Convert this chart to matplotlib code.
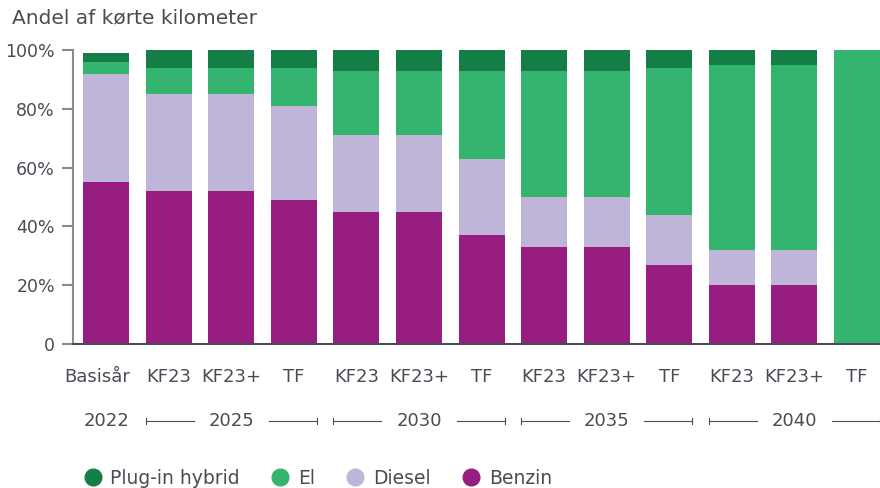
import matplotlib.pyplot as plt
import matplotlib.transforms as mtransforms
from matplotlib.lines import Line2D
import numpy as np

plt.rcParams['font.family'] = ['DejaVu Sans']

# Scenarios per year
scenarios = ['Basisår', 'KF23', 'KF23+', 'TF', 'KF23', 'KF23+', 'TF',
             'KF23', 'KF23+', 'TF', 'KF23', 'KF23+', 'TF']
years = ['2022', '2025', '2030', '2035', '2040']
year_bars = [[0], [1, 2, 3], [4, 5, 6], [7, 8, 9], [10, 11, 12]]

# Share of driven kilometres (%)
benzin = [55, 52, 52, 49, 45, 45, 37, 33, 33, 27, 20, 20, 0]
diesel = [37, 33, 33, 32, 26, 26, 26, 17, 17, 17, 12, 12, 0]
el = [4, 9, 9, 13, 22, 22, 30, 43, 43, 50, 63, 63, 100]
plugin = [3, 6, 6, 6, 7, 7, 7, 7, 7, 6, 5, 5, 0]

c_benzin = '#981d80'
c_diesel = '#bfb5d8'
c_el = '#34b46e'
c_plugin = '#157e47'
txt = '#4b4b55'
fs = 12.5

fig = plt.figure(figsize=(8.8, 4.88), dpi=100)
ax = fig.add_axes([0.083, 0.295, 0.917, 0.6025])

x = np.arange(len(scenarios))
w = 0.735
bottom = np.zeros(len(x))
for vals, col in [(benzin, c_benzin), (diesel, c_diesel), (el, c_el), (plugin, c_plugin)]:
    ax.bar(x, vals, w, bottom=bottom, color=col, linewidth=0)
    bottom += np.array(vals)

ax.set_ylim(0, 100)
ax.set_xlim(-0.53, 12.37)
ax.set_yticks([0, 20, 40, 60, 80, 100])
ax.set_yticklabels(['0', '20%', '40%', '60%', '80%', '100%'])
ax.set_xticks(x)
ax.set_xticklabels(scenarios)
ax.tick_params(axis='y', length=8, width=1.5, color='#8a8a90', labelsize=fs,
               labelcolor=txt, pad=5)
ax.tick_params(axis='x', length=0, labelsize=13, labelcolor=txt, pad=17)

# first label sits flush with the right edge of its bar
lab0 = ax.get_xticklabels()[0]
lab0.set_ha('right')
lab0.set_transform(lab0.get_transform() +
                   mtransforms.ScaledTranslation(0.24, 0, fig.dpi_scale_trans))

for s in ['top', 'right']:
    ax.spines[s].set_visible(False)
ax.spines['left'].set_color('#8a8a90')
ax.spines['left'].set_linewidth(1.5)
ax.spines['bottom'].set_color('#4b4b55')
ax.spines['bottom'].set_linewidth(1.5)

# Year row with bracket lines under each scenario group
trans = mtransforms.blended_transform_factory(ax.transData, ax.transAxes)
yrow = -0.262
for year, idx in zip(years, year_bars):
    xc = np.mean(idx)
    ax.text(xc, yrow, year, transform=trans, ha='center', va='center',
            fontsize=13, color=txt)
    if len(idx) > 1:
        x0 = idx[0] - w / 2
        x1 = idx[-1] + w / 2
        gap = 0.6
        cap = 0.01
        ax.plot([x0, xc - gap], [yrow, yrow], transform=trans, color=txt,
                lw=0.8, clip_on=False)
        ax.plot([xc + gap, x1], [yrow, yrow], transform=trans, color=txt,
                lw=0.8, clip_on=False)
        ax.plot([x0, x0], [yrow - cap, yrow + cap], transform=trans, color=txt,
                lw=0.8, clip_on=False)
        ax.plot([x1, x1], [yrow - cap, yrow + cap], transform=trans, color=txt,
                lw=0.8, clip_on=False)

fig.text(0.014, 0.963, 'Andel af kørte kilometer', fontsize=14.5, color=txt,
         ha='left', va='center')

handles = [Line2D([], [], marker='o', ls='', markersize=12, color=c)
           for c in [c_plugin, c_el, c_diesel, c_benzin]]
labels = ['Plug-in hybrid', 'El', 'Diesel', 'Benzin']
leg = fig.legend(handles, labels, loc='center left', bbox_to_anchor=(0.086, 0.02),
                 ncol=4, frameon=False, fontsize=13.5, handletextpad=0.45,
                 columnspacing=1.65, handlelength=1.0, borderaxespad=0)
for t in leg.get_texts():
    t.set_color(txt)

fig.savefig('out.png', dpi=100)
